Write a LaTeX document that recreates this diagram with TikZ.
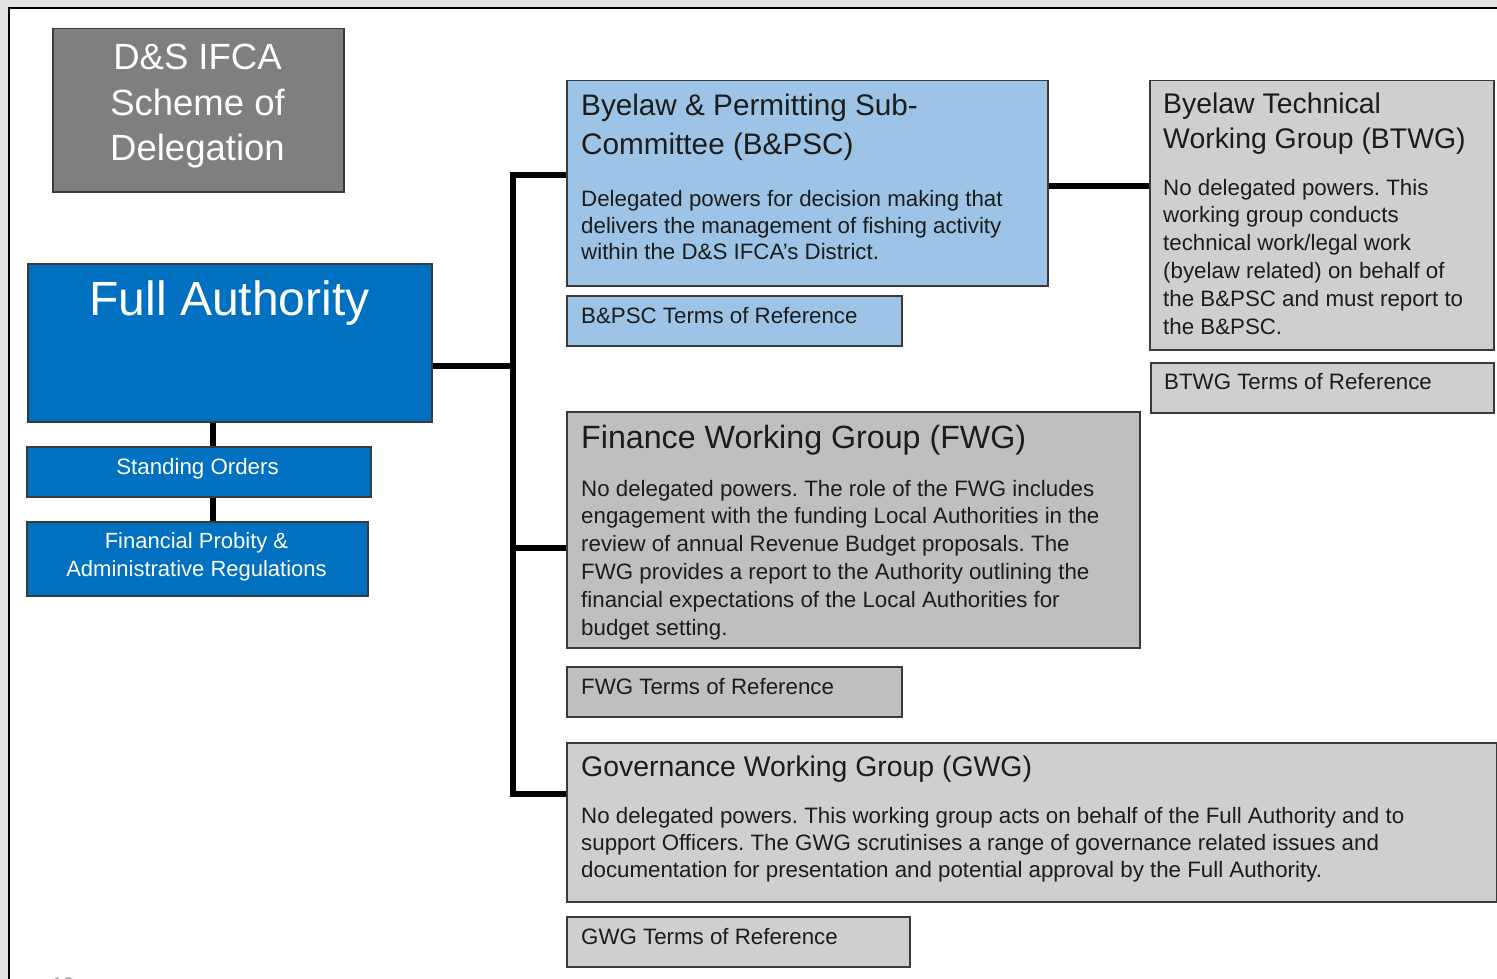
\documentclass[tikz,border=0pt]{standalone}
\usepackage{fontspec}
\setmainfont{Liberation Sans}
\frenchspacing
\definecolor{pagebg}{HTML}{E4E4E4}
\definecolor{dsgray}{HTML}{7F7F7F}
\definecolor{fablue}{HTML}{0070C0}
\definecolor{bpscblue}{HTML}{9DC3E6}
\definecolor{lgray}{HTML}{D0CECE}
\definecolor{mgray}{HTML}{BFBFBF}
\definecolor{edgec}{HTML}{3A3A3A}
\definecolor{ink}{HTML}{1C1C1C}
\definecolor{pnum}{HTML}{A6A6A6}
\newcommand\fsz[2]{\fontsize{#1}{#2}\selectfont}
\newcommand\mlinesl[1]{\vtop{\let\\\cr\halign{##\hfil\cr#1\crcr}}}
\newcommand\mlinesc[1]{\vtop{\let\\\cr\halign{\hfil##\hfil\cr#1\crcr}}}
\tikzset{
  box/.style={draw=edgec, line width=1.5pt, rectangle, inner sep=0pt, anchor=north west},
  conn/.style={line width=6pt, black, line join=miter},
  tx/.style={anchor=base west, inner sep=0pt, text=ink},
  wtx/.style={anchor=base, inner sep=0pt, text=white},
}
\begin{document}
\begin{tikzpicture}[x=1pt, y=-1pt]
\useasboundingbox (0,0) rectangle (1497,979);
% page background and frame
\fill[pagebg] (0,0) rectangle (1497,979);
\draw[black, line width=2pt, fill=white] (9,8) rectangle (1520,1000);
\node[anchor=base, inner sep=0pt, text=pnum, font=\fsz{20}{24}] (pgnum) at (63,991) {12};

% boxes
\node[box, fill=dsgray, minimum width=291pt, minimum height=163pt] (ds) at (52,28) {};
\node[box, fill=fablue, minimum width=404pt, minimum height=158pt] (fa) at (27,263) {};
\node[box, fill=fablue, minimum width=344pt, minimum height=50pt] (so) at (26,446) {};
\node[box, fill=fablue, minimum width=341pt, minimum height=74pt] (fp) at (26,521) {};

\node[box, fill=bpscblue, minimum width=481pt, minimum height=205pt] (bpsc) at (566,80) {};
\node[box, fill=bpscblue, minimum width=335pt, minimum height=50pt] (bpscr) at (566,295) {};
\node[box, fill=lgray, minimum width=344pt, minimum height=269pt] (btwg) at (1149,80) {};
\node[box, fill=lgray, minimum width=343pt, minimum height=50pt] (btwgr) at (1150,362) {};
\node[box, fill=mgray, minimum width=573pt, minimum height=236pt] (fwg) at (566,411) {};
\node[box, fill=mgray, minimum width=335pt, minimum height=50pt] (fwgr) at (566,666) {};
\node[box, fill=lgray, minimum width=930pt, minimum height=159pt] (gwg) at (566,742) {};
\node[box, fill=lgray, minimum width=343pt, minimum height=50pt] (gwgr) at (566,916) {};

% connector junctions
\coordinate (jA) at (513,175);
\coordinate (jF) at (513,366);
\coordinate (jB) at (513,548);
\coordinate (jC) at (513,794);
\coordinate (vx) at (213,0);
\coordinate (hb) at (1100,186);

\draw[conn] (bpsc.west |- jA) -- (jA) -- (jC) -- (gwg.west |- jC);
\draw[conn] (fa.east |- jF) -- (jF);
\draw[conn] (jB) -- (fwg.west |- jB);
\draw[conn] (vx |- fa.south) -- (vx |- so.north);
\draw[conn] (vx |- so.south) -- (vx |- fp.north);
\draw[conn] (bpsc.east |- hb) -- (btwg.west |- hb);

% texts
\node[wtx, font=\fsz{36.5}{45.5}] (dsT) at (197.5,70) {\mlinesc{D\&S IFCA\\Scheme of\\Delegation}};
\node[wtx, font=\fsz{48}{56}] (faT) at (229.5,315) {Full Authority};
\node[wtx, font=\fsz{22.3}{27}] (soT) at (197.5,474) {Standing Orders};
\node[wtx, font=\fsz{22}{27.5}] (fpT) at (196.5,548.5) {\mlinesc{Financial Probity \&\\Administrative Regulations}};

\node[tx, font=\fsz{29.7}{39.3}] (bpscT) at (581,115.7) {\mlinesl{Byelaw \& Permitting Sub-\\Committee (B\&PSC)}};
\node[tx, font=\fsz{22.3}{27}] (bpscB) at (581,206) {\mlinesl{Delegated powers for decision making that\\delivers the management of fishing activity\\within the D\&S IFCA’s District.}};
\node[tx, font=\fsz{22.3}{27}] (bpscrT) at (581,323) {B\&PSC Terms of Reference};

\node[tx, font=\fsz{28.4}{35}] (btwgT) at (1163,114) {\mlinesl{Byelaw Technical\\Working Group (BTWG)}};
\node[tx, font=\fsz{22.3}{27.8}] (btwgB) at (1163,195) {\mlinesl{No delegated powers. This\\working group conducts\\technical work/legal work\\(byelaw related) on behalf of\\the B\&PSC and must report to\\the B\&PSC.}};
\node[tx, font=\fsz{22.3}{27}] (btwgrT) at (1164,389) {BTWG Terms of Reference};

\node[tx, font=\fsz{32.2}{38}] (fwgT) at (581,448) {Finance Working Group (FWG)};
\node[tx, font=\fsz{22.3}{27.8}] (fwgB) at (581,496) {\mlinesl{No delegated powers. The role of the FWG includes\\engagement with the funding Local Authorities in the\\review of annual Revenue Budget proposals. The\\FWG provides a report to the Authority outlining the\\financial expectations of the Local Authorities for\\budget setting.}};
\node[tx, font=\fsz{22.3}{27}] (fwgrT) at (581,694) {FWG Terms of Reference};

\node[tx, font=\fsz{28.4}{35}] (gwgT) at (581,776) {Governance Working Group (GWG)};
\node[tx, font=\fsz{22.3}{27}] (gwgB) at (581,823) {\mlinesl{No delegated powers. This working group acts on behalf of the Full Authority and to\\support Officers. The GWG scrutinises a range of governance related issues and\\documentation for presentation and potential approval by the Full Authority.}};
\node[tx, font=\fsz{22.3}{27}] (gwgrT) at (581,944) {GWG Terms of Reference};
\end{tikzpicture}
\end{document}
